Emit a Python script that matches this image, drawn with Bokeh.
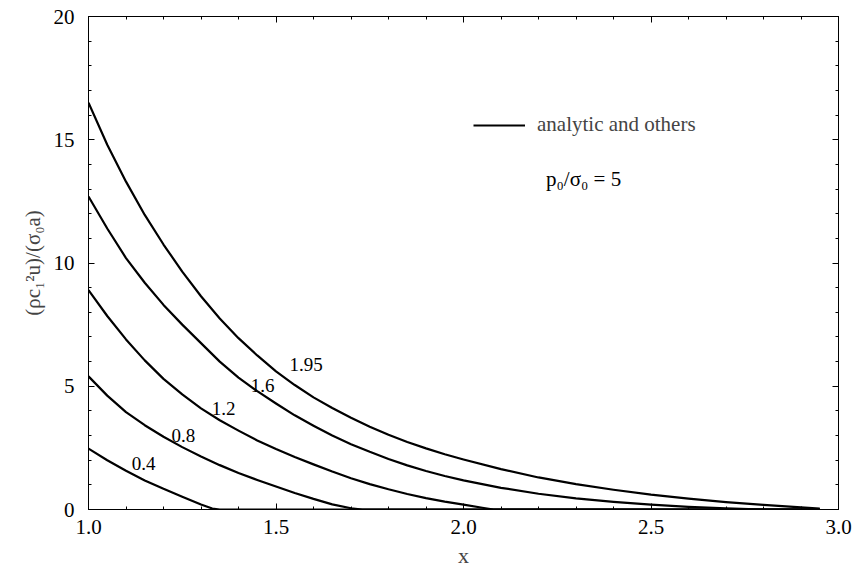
from bokeh.plotting import figure
from bokeh.models import (LinearAxis, FixedTicker, PrintfTickFormatter, Legend,
                          LegendItem, Label, ColumnDataSource, Range1d, CustomJSTickFormatter)
from bokeh.embed import file_html
from bokeh.resources import INLINE
from bokeh.core.properties import value

# ---------------- data ----------------
x_195 = [1.0, 1.05, 1.1, 1.15, 1.2, 1.25, 1.3, 1.35, 1.4, 1.45, 1.5, 1.55, 1.6, 1.65, 1.7, 1.75,
         1.8, 1.85, 1.9, 1.95, 2.0, 2.1, 2.2, 2.3, 2.4, 2.5, 2.6, 2.7, 2.8, 2.9, 2.95]
y_195 = [16.5, 14.8, 13.3, 11.95, 10.75, 9.65, 8.65, 7.75, 6.95, 6.25, 5.6, 5.05, 4.55, 4.12, 3.72, 3.36,
         3.03, 2.74, 2.48, 2.24, 2.03, 1.64, 1.3, 1.03, 0.8, 0.6, 0.44, 0.3, 0.19, 0.09, 0.04]

x_16 = [1.0, 1.05, 1.1, 1.15, 1.2, 1.25, 1.3, 1.35, 1.4, 1.45, 1.5, 1.55, 1.6, 1.65, 1.7, 1.75,
        1.8, 1.85, 1.9, 1.95, 2.0, 2.1, 2.2, 2.3, 2.4, 2.5, 2.6, 2.7, 2.8, 2.95]
y_16 = [12.7, 11.4, 10.2, 9.2, 8.3, 7.5, 6.75, 6.0, 5.35, 4.8, 4.3, 3.82, 3.4, 3.0, 2.65, 2.34,
        2.05, 1.79, 1.56, 1.36, 1.18, 0.88, 0.64, 0.45, 0.31, 0.2, 0.11, 0.05, 0.0, 0.0]

x_12 = [1.0, 1.05, 1.1, 1.15, 1.2, 1.25, 1.3, 1.35, 1.4, 1.45, 1.5, 1.55, 1.6, 1.65, 1.7, 1.75,
        1.8, 1.85, 1.9, 1.95, 2.0, 2.05, 2.08, 2.95]
y_12 = [8.9, 7.85, 6.9, 6.05, 5.3, 4.67, 4.1, 3.62, 3.2, 2.8, 2.45, 2.13, 1.83, 1.54, 1.27, 1.03,
        0.82, 0.63, 0.46, 0.32, 0.2, 0.07, 0.0, 0.0]

x_08 = [1.0, 1.05, 1.1, 1.15, 1.2, 1.25, 1.3, 1.35, 1.4, 1.45, 1.5, 1.55, 1.6, 1.65, 1.7, 1.73, 2.95]
y_08 = [5.4, 4.62, 3.95, 3.42, 2.95, 2.53, 2.15, 1.8, 1.48, 1.2, 0.93, 0.67, 0.43, 0.21, 0.05, 0.0, 0.0]

x_04 = [1.0, 1.05, 1.1, 1.15, 1.2, 1.25, 1.3, 1.33, 1.35, 2.95]
y_04 = [2.47, 2.0, 1.57, 1.18, 0.84, 0.52, 0.2, 0.04, 0.0, 0.0]

curve_labels = ["0.4", "0.8", "1.2", "1.6", "1.95"]
curve_label_x = [1.147, 1.253, 1.36, 1.464, 1.58]
curve_label_y = [1.87, 3.0, 4.1, 5.03, 5.88]

x_ticks = [1.0, 1.5, 2.0, 2.5, 3.0]
x_minor = [1.1, 1.2, 1.3, 1.4, 1.6, 1.7, 1.8, 1.9, 2.1, 2.2, 2.3, 2.4, 2.6, 2.7, 2.8, 2.9]
y_ticks = [0, 5, 10, 15, 20]
y_minor = [1, 2, 3, 4, 6, 7, 8, 9, 11, 12, 13, 14, 16, 17, 18, 19]

legend_text = "analytic and others"
param_text = "p\u2080/\u03c3\u2080 = 5"
x_title = "x"
y_title = "(\u03c1c\u2081\u00b2u)/(\u03c3\u2080a)"

FONT = "Liberation Serif"

# ---------------- figure ----------------
p = figure(width=857, height=574, x_range=Range1d(1.0, 3.0), y_range=Range1d(0, 20),
           output_backend="svg", toolbar_location=None,
           min_border_left=88, min_border_right=19, min_border_top=16, min_border_bottom=65)
p.xgrid.visible = False
p.ygrid.visible = False
p.outline_line_color = "black"
p.outline_line_width = 1
p.background_fill_color = "white"
p.border_fill_color = "white"

def style_axis(ax, ticks, minor, show_labels):
    ax.ticker = FixedTicker(ticks=ticks, minor_ticks=minor)
    ax.axis_line_color = "black"
    ax.major_tick_line_color = "black"
    ax.minor_tick_line_color = "black"
    ax.major_tick_in = 6
    ax.major_tick_out = 0
    ax.minor_tick_in = 3
    ax.minor_tick_out = 0
    ax.major_label_text_font = FONT
    ax.major_label_text_color = "black"
    ax.major_label_text_font_size = "21px"
    if not show_labels:
        ax.formatter = CustomJSTickFormatter(code="return ''")
        ax.major_label_standoff = 0

xa = p.xaxis[0]
style_axis(xa, x_ticks, x_minor, True)
xa.formatter = PrintfTickFormatter(format="%.1f")
xa.major_label_standoff = 10
xa.axis_label = x_title
xa.axis_label_text_font = FONT
xa.axis_label_text_font_size = "22px"
xa.axis_label_text_font_style = "normal"
xa.axis_label_standoff = 6

ya = p.yaxis[0]
style_axis(ya, y_ticks, y_minor, True)
ya.major_label_standoff = 14
ya.axis_label = y_title
ya.axis_label_text_font = FONT
ya.axis_label_text_font_size = "21px"
ya.axis_label_text_font_style = "normal"
ya.axis_label_standoff = 6

top = LinearAxis()
style_axis(top, x_ticks, x_minor, False)
p.add_layout(top, "above")
right = LinearAxis()
style_axis(right, y_ticks, y_minor, False)
p.add_layout(right, "right")

# ---------------- curves ----------------
renderers = []
for xs, ys in [(x_04, y_04), (x_08, y_08), (x_12, y_12), (x_16, y_16), (x_195, y_195)]:
    r = p.line(xs, ys, line_color="black", line_width=2.2, line_join="round")
    renderers.append(r)

src = ColumnDataSource(dict(x=curve_label_x, y=curve_label_y, t=curve_labels))
p.text(x="x", y="y", text="t", source=src, text_font=value(FONT), text_font_size="19px",
       text_align="center", text_baseline="middle", text_color="black")

legend = Legend(items=[LegendItem(label=legend_text, renderers=[renderers[-1]])],
                location=(385, 372), orientation="vertical",
                border_line_alpha=0, background_fill_alpha=0,
                padding=0, margin=0, glyph_width=52, glyph_height=20,
                label_standoff=12, label_text_font=FONT, label_text_font_size="21px",
                label_height=20)
p.add_layout(legend, "center")

p.add_layout(Label(x=2.22, y=13.4, text=param_text, text_font=FONT, text_font_size="21px",
                   text_align="left", text_baseline="middle", text_color="black"))

open("out.html", "w").write(file_html(p, INLINE))
